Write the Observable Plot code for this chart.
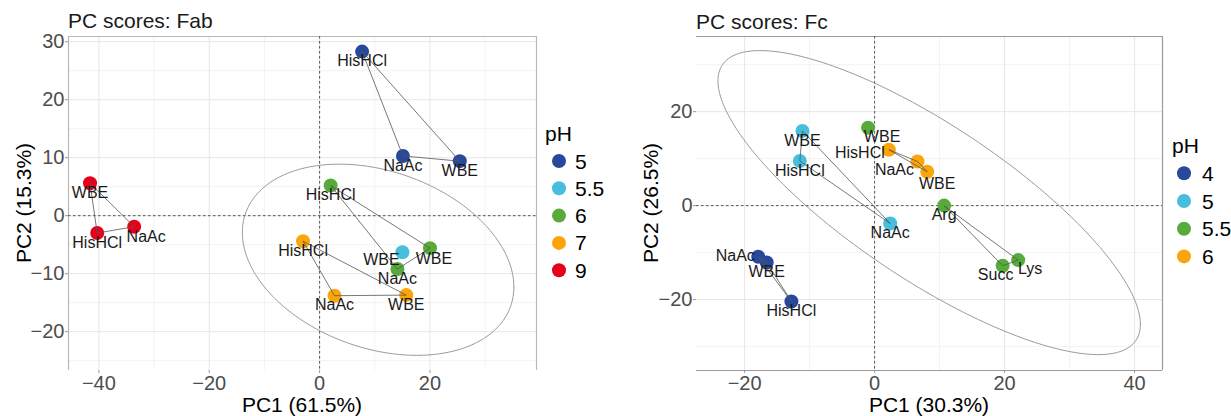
<!DOCTYPE html>
<html><head><meta charset="utf-8">
<script src="https://cdn.jsdelivr.net/npm/d3@7"></script>
<script src="https://cdn.jsdelivr.net/npm/@observablehq/plot@0.6"></script>
<style>
html,body{margin:0;padding:0;background:#fff;}
#root{position:relative;width:1231px;height:416px;overflow:hidden;font-family:"Liberation Sans",Arial,sans-serif;}
#root > svg{position:absolute;top:0;}
</style></head><body><div id="root"></div>
<script>
// ---------- data ----------
const palette = ["#27489b", "#47bedb", "#58ab3b", "#fca50a", "#e6001a"];

// Panel 1: Fab
const fabTitle = "PC scores: Fab";
const fabXLabel = "PC1 (61.5%)";
const fabYLabel = "PC2 (15.3%)";
const fabLevels = ["5", "5.5", "6", "7", "9"];
const fabSample = ["HisHCl","NaAc","WBE","WBE","HisHCl","WBE","NaAc","HisHCl","NaAc","WBE","WBE","HisHCl","NaAc"];
const fabPH     = ["5","5","5","5.5","6","6","6","7","7","7","9","9","9"];
const fabPC1    = [7.7, 15.1, 25.4, 15.0, 2.0, 20.0, 14.1, -3.0, 2.7, 15.7, -41.6, -40.3, -33.6];
const fabPC2    = [28.3, 10.3, 9.4, -6.3, 5.2, -5.6, -9.2, -4.4, -13.8, -13.7, 5.6, -3.0, -1.9];
const fabSet    = ["A","A","A","","B","B","B","C","C","C","D","D","D"];
const fabXTicks = [-40, -20, 0, 20];
const fabYTicks = [-20, -10, 0, 10, 20, 30];
const fabXMinor = [-30, -10, 10, 30];
const fabYMinor = [-25, -15, -5, 5, 15, 25];

// Panel 2: Fc
const fcTitle = "PC scores: Fc";
const fcXLabel = "PC1 (30.3%)";
const fcYLabel = "PC2 (26.5%)";
const fcLevels = ["4", "5", "5.5", "6"];
const fcSample = ["NaAc","WBE","HisHCl","WBE","HisHCl","NaAc","WBE","Arg","Succ","Lys","HisHCl","NaAc","WBE"];
const fcPH     = ["4","4","4","5","5","5","5.5","5.5","5.5","5.5","6","6","6"];
const fcPC1    = [-17.9, -16.6, -12.8, -11.1, -11.5, 2.4, -1.0, 10.7, 19.7, 22.1, 2.2, 6.6, 8.1];
const fcPC2    = [-10.9, -12.1, -20.4, 15.9, 9.5, -3.8, 16.6, 0.0, -12.8, -11.6, 11.9, 9.4, 7.2];
const fcSet    = ["A","A","A","B","B","B","","C","C","C","D","D","D"];
const fcXTicks = [-20, 0, 20, 40];
const fcYTicks = [-20, 0, 20];
const fcXMinor = [-10, 10, 30];
const fcYMinor = [-30, -10, 10, 30];

// ---------- styling / layout ----------
const FONT = '"Liberation Sans", Arial, sans-serif';
const root = document.getElementById("root");

function panel(cfg) {
  const rows = cfg.sample.map((s, i) => ({sample: s, ph: cfg.ph[i], pc1: cfg.pc1[i], pc2: cfg.pc2[i], set: cfg.set[i]}));
  const links = [];
  rows.forEach((a, i) => rows.forEach((b, j) => {
    if (j > i && a.set && a.set === b.set) links.push({x1: a.pc1, y1: a.pc2, x2: b.pc1, y2: b.pc2});
  }));
  const e = cfg.ell;
  const ell = d3.range(0, 241).map(k => {
    const t = 2 * Math.PI * k / 240;
    return {x: e.cx + e.l11 * Math.cos(t), y: e.cy + e.l21 * Math.cos(t) + e.l22 * Math.sin(t)};
  });
  const [x0, x1] = cfg.xDomain, [y0, y1] = cfg.yDomain;
  const fs = {stroke: cfg.frameColor, strokeWidth: 1.2};
  const frame = [];
  if (cfg.sides.includes("top")) frame.push(Plot.ruleY([y1], fs));
  if (cfg.sides.includes("bottom")) frame.push(Plot.ruleY([y0], fs));
  if (cfg.sides.includes("left")) frame.push(Plot.ruleX([x0], fs));
  if (cfg.sides.includes("right")) frame.push(Plot.ruleX([x1], fs));
  const labels = rows.map((r, i) => {
    const [dx, dy] = cfg.nudge[i] || [0, 9.5];
    return Plot.text([r], {x: "pc1", y: "pc2", text: "sample", dx, dy, fontSize: 16, fill: "#1a1a1a"});
  });
  const chart = Plot.plot({
    width: cfg.width, height: 416,
    marginLeft: cfg.ml, marginRight: cfg.mr, marginTop: 36, marginBottom: 46,
    style: {fontFamily: FONT, background: "transparent", overflow: "visible"},
    x: {domain: cfg.xDomain},
    y: {domain: cfg.yDomain},
    color: {domain: cfg.levels, range: palette.slice(0, cfg.levels.length)},
    marks: [
      Plot.ruleX(cfg.xMinor, {stroke: "#f3f3f3"}),
      Plot.ruleY(cfg.yMinor, {stroke: "#f3f3f3"}),
      Plot.ruleX(cfg.xTicks, {stroke: "#e6e6e6"}),
      Plot.ruleY(cfg.yTicks, {stroke: "#e6e6e6"}),
      ...frame,
      Plot.ruleX([0], {stroke: "#555", strokeDasharray: "2.5,2.5"}),
      Plot.ruleY([0], {stroke: "#555", strokeDasharray: "2.5,2.5"}),
      Plot.line(ell, {x: "x", y: "y", stroke: "#8f8f8f", strokeWidth: 0.9}),
      Plot.dot(rows, {x: "pc1", y: "pc2", fill: "ph", r: 7}),
      Plot.link(links, {x1: "x1", y1: "y1", x2: "x2", y2: "y2", stroke: "#555", strokeWidth: 0.8}),
      ...labels,
      Plot.axisX(cfg.xTicks, {tickSize: 3, tickPadding: 2, fontSize: 20, fill: "#4d4d4d", stroke: "#999", label: null}),
      Plot.axisY(cfg.yTicks, {tickSize: 3, tickPadding: 1, fontSize: 20, fill: "#4d4d4d", stroke: "#999", label: null})
    ]
  });
  chart.style.left = cfg.left + "px";
  root.appendChild(chart);
}

panel({
  sample: fabSample, ph: fabPH, pc1: fabPC1, pc2: fabPC2, set: fabSet, levels: fabLevels,
  xDomain: [-45.5, 39.3], yDomain: [-26.7, 30.9],
  xTicks: fabXTicks, yTicks: fabYTicks, xMinor: fabXMinor, yMinor: fabYMinor,
  ell: {cx: 10.6, cy: -7.6, l11: 24.6, l21: -4.7, l22: 15.8},
  width: 620, left: 0, ml: 68, mr: 84,
  sides: ["top", "left", "right"], frameColor: "#b8b8b8",
  nudge: {3: [-21, 8], 5: [4, 11], 12: [12, 10]}
});

panel({
  sample: fcSample, ph: fcPH, pc1: fcPC1, pc2: fcPC2, set: fcSet, levels: fcLevels,
  xDomain: [-27.4, 44.3], yDomain: [-35.1, 36.0],
  xTicks: fcXTicks, yTicks: fcYTicks, xMinor: fcXMinor, yMinor: fcYMinor,
  ell: {cx: 8.4, cy: 0.64, l11: 32.5, l21: -25.9, l22: 19.4},
  width: 611, left: 620, ml: 76, mr: 69,
  sides: ["top", "right", "bottom"], frameColor: "#9a9a9a",
  nudge: {0: [-23, -1], 6: [14, 9], 8: [-7, 9], 9: [12, 9], 10: [-29, 3], 11: [-23, 8], 12: [10, 12]}
});

// ---------- titles, axis titles and legends ----------
const svg = d3.select(root).append("svg")
  .attr("width", 1231).attr("height", 416)
  .style("left", "0px").style("pointer-events", "none")
  .attr("font-family", FONT);

function txt(x, y, s, size, opts = {}) {
  const t = svg.append("text").attr("x", x).attr("y", y).attr("font-size", size)
    .attr("fill", opts.fill || "#1a1a1a").text(s);
  if (opts.anchor) t.attr("text-anchor", opts.anchor);
  if (opts.baseline) t.attr("dominant-baseline", opts.baseline);
  if (opts.rotate) t.attr("x", 0).attr("y", 0).attr("transform", `translate(${x},${y}) rotate(-90)`);
  return t;
}

txt(68, 28, fabTitle, 21);
txt(696, 29, fcTitle, 21);
txt(302, 412, fabXLabel, 21, {anchor: "middle", fill: "#000"});
txt(929, 412, fcXLabel, 21, {anchor: "middle", fill: "#000"});
txt(31, 203, fabYLabel, 21, {anchor: "middle", rotate: true, fill: "#000"});
txt(658, 203, fcYLabel, 21, {anchor: "middle", rotate: true, fill: "#000"});

function legend(levels, tx, ty, cx, lx, y0, step) {
  txt(tx, ty, "pH", 21, {fill: "#000"});
  levels.forEach((lv, i) => {
    const y = y0 + i * step;
    svg.append("circle").attr("cx", cx).attr("cy", y).attr("r", 7).attr("fill", palette[i]);
    txt(lx, y, lv, 21, {baseline: "central", fill: "#000"});
  });
}
legend(fabLevels, 545, 141, 559, 575, 161, 27.3);
legend(fcLevels, 1172, 153, 1184, 1202, 173.3, 27.7);
</script>
</body></html>
